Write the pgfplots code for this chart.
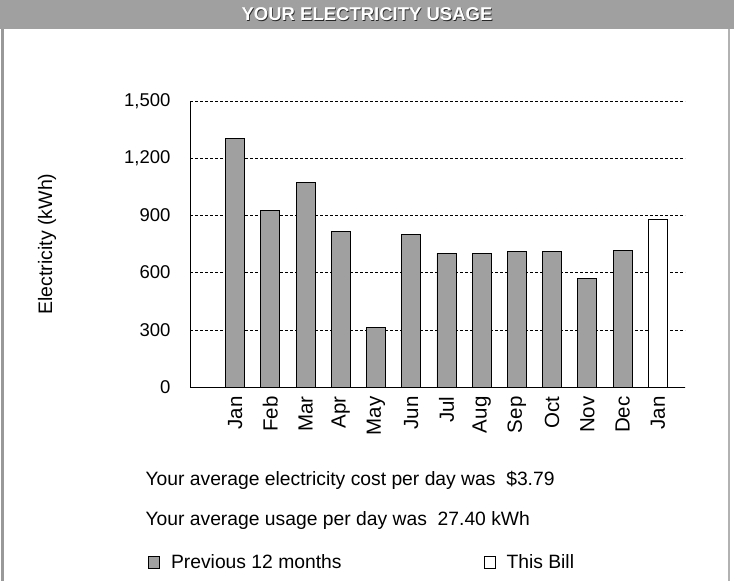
\documentclass[border=0pt]{standalone}
\usepackage{pgfplots}
\pgfplotsset{compat=1.18}
\usepackage{fontspec}
\setmainfont{Liberation Sans}
\definecolor{barfill}{RGB}{160,160,160}
\definecolor{hdr}{RGB}{160,160,160}
\begin{document}
\begin{tikzpicture}[x=1pt,y=1pt]
\path[use as bounding box] (0,0) rectangle (734,581);
\fill[white] (0,0) rectangle (734,581);
\fill[hdr] (0,552) rectangle (734,581);
\node[font=\bfseries\fontsize{18.5}{20}\selectfont, text=black!85] at (367.8,566.2) {YOUR ELECTRICITY USAGE};
\node[font=\bfseries\fontsize{18.5}{20}\selectfont, text=white] at (367,567) {YOUR ELECTRICITY USAGE};
\draw[gray!80, line width=3pt] (2,0) -- (2,552);
\draw[gray!60, line width=2pt] (729,0) -- (729,552);
\node[rotate=90, font=\fontsize{19.5}{22}\selectfont] at (47,337) {Electricity (kWh)};
\node[anchor=west, font=\fontsize{19.3}{22}\selectfont] at (142,101) {Your average electricity cost per day was\ \ \$3.79};
\node[anchor=west, font=\fontsize{19.3}{22}\selectfont] at (142,60) {Your average usage per day was\ \ 27.40 kWh};
\begin{axis}[
  at={(190pt,194pt)}, anchor=south west,
  scale only axis, width=495pt, height=286pt,
  xmin=-1.28, xmax=12.77, ymin=0, ymax=1500,
  ytick={0,300,600,900,1200,1500},
  xtick={0,...,12},
  xticklabels={Jan,Feb,Mar,Apr,May,Jun,Jul,Aug,Sep,Oct,Nov,Dec,Jan},
  xticklabel style={rotate=90, anchor=east, font=\fontsize{20.5}{22}\selectfont},
  xticklabel shift=6pt,
  yticklabel style={font=\fontsize{18.5}{20}\selectfont, xshift=-16pt},
  /pgf/number format/assume math mode=true,
  /pgf/number format/1000 sep={,},
  scaled y ticks=false,
  major tick length=0pt,
  axis x line*=bottom, axis y line*=left,
  axis line style={black, line width=0.9pt},
  ymajorgrids, grid style={densely dashed, black, line width=0.5pt},
  legend style={at={(-0.091,-0.612)}, anchor=west, draw=none, fill=none,
    legend columns=2, font=\fontsize{19.3}{22}\selectfont,
    /tikz/every odd column/.append style={column sep=9pt},
    /tikz/every even column/.append style={column sep=140pt}},
  legend image code/.code={\draw[#1] (0pt,-6pt) rectangle (11pt,6pt);},
]
\addplot[ybar, bar width=19pt, bar shift=0pt, fill=barfill, draw=black, line width=0.9pt]
  coordinates {(0,1302) (1,927) (2,1071) (3,818) (4,311) (5,800) (6,701) (7,698) (8,713) (9,710) (10,571) (11,717)};
\addlegendentry{Previous 12 months}
\addplot[ybar, bar width=19pt, bar shift=0pt, fill=white, draw=black, line width=0.9pt]
  coordinates {(12,878)};
\addlegendentry{This Bill}
\end{axis}
\end{tikzpicture}
\end{document}
